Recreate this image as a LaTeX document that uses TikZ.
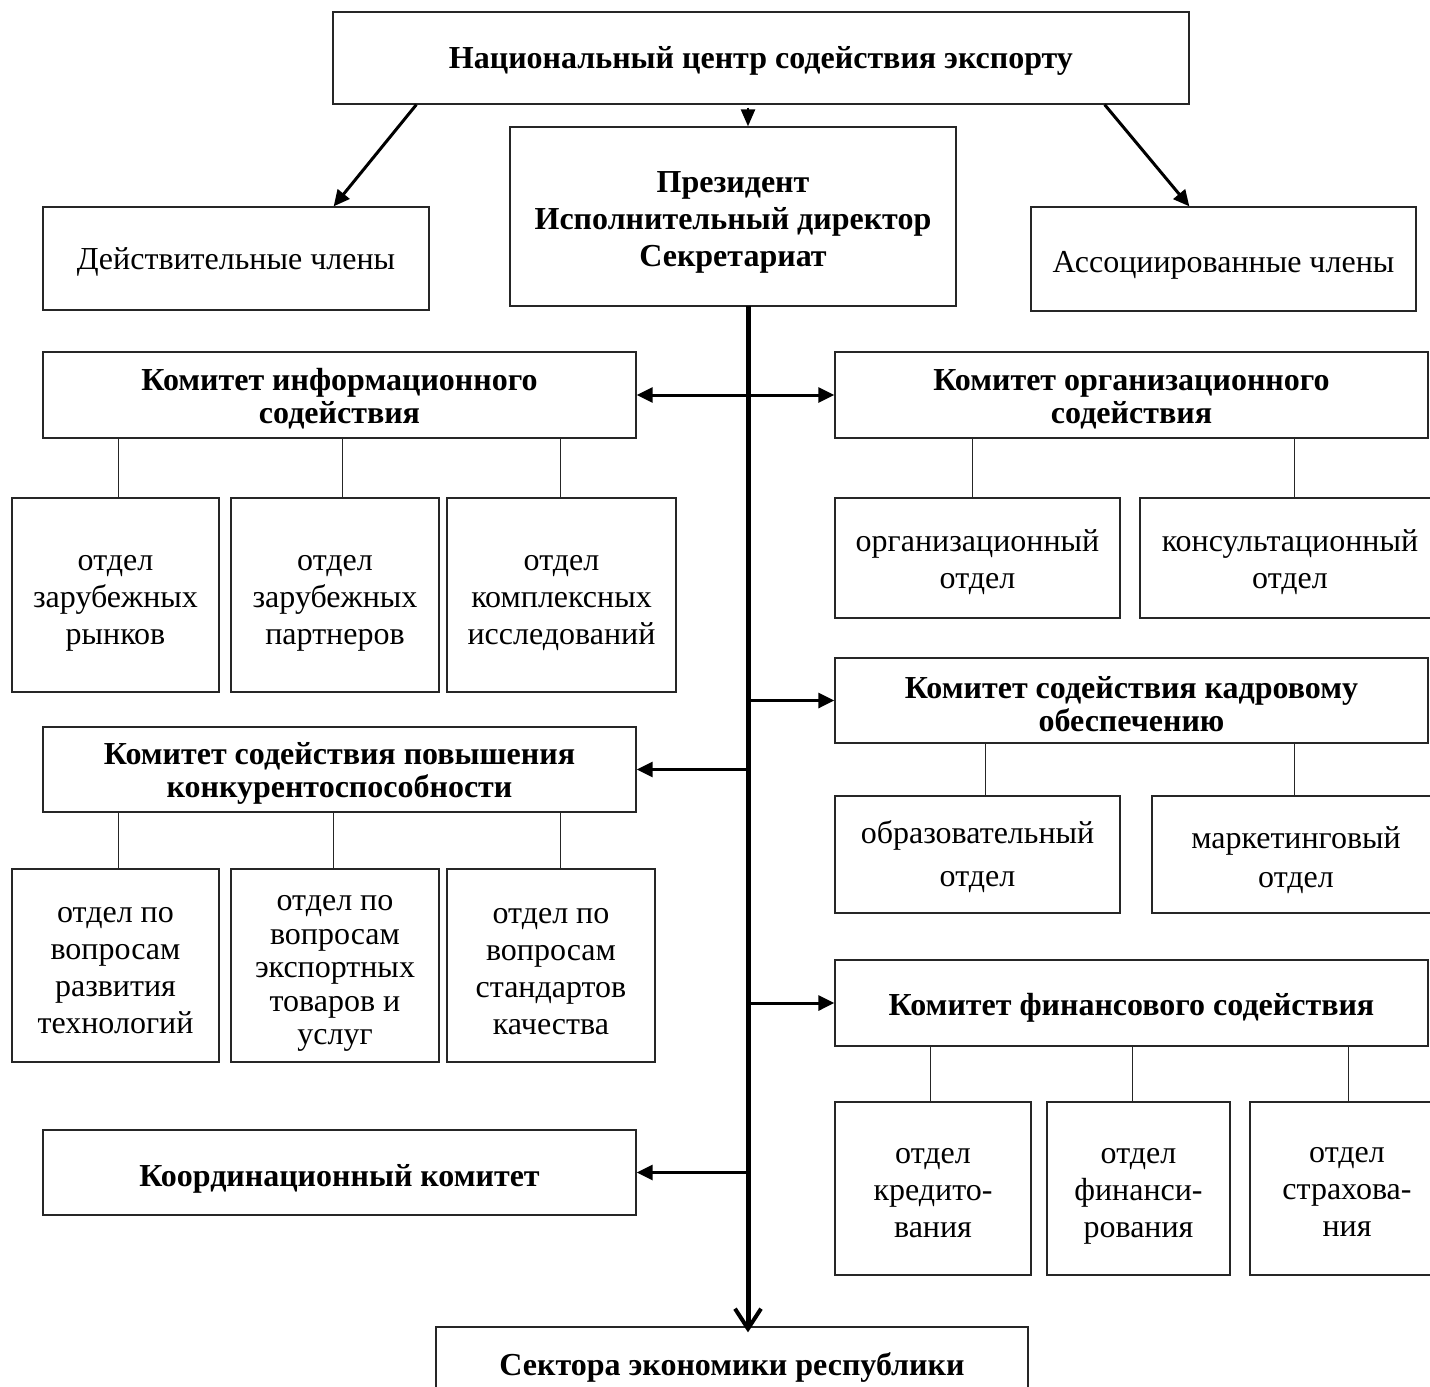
\documentclass[tikz,border=0pt]{standalone}
\usepackage{fontspec}
\setmainfont{Liberation Serif}
\usepackage{tikz}
\usetikzlibrary{arrows.meta}

\tikzset{
  box/.style={draw=black!85, line width=1.3pt, align=center, inner sep=0pt},
  txt/.style={align=center, inner sep=0pt},
  btxt/.style={txt, font=\fontsize{32}{33}\selectfont\bfseries},
  arr/.style={line width=3pt, -{Triangle[length=16pt,width=15pt]}},
  link/.style={line width=1pt, black!85}
}

\begin{document}
\begin{tikzpicture}[x=1pt, y=-1pt, font=\fontsize{32}{37}\selectfont]
\useasboundingbox (0,0) rectangle (1430,1387);
\clip (0,0) rectangle (1430,1387);
% top level
\node[box, minimum width=856pt, minimum height=92pt,
  label={[btxt, yshift=-3pt]center:Национальный центр содействия экспорту}] (ncse) at (761,58) {};
\node[box, minimum width=446pt, minimum height=179pt,
  label={[btxt, font=\fontsize{32}{37}\selectfont\bfseries, yshift=-6pt]center:{Президент\\Исполнительный директор\\Секретариат}}] (pres) at (733,216.5) {};
\node[box, minimum width=386pt, minimum height=103pt,
  label={[txt, yshift=-3pt]center:Действительные члены}] (deist) at (236,258.5) {};
\node[box, minimum width=385pt, minimum height=104pt,
  label={[txt, yshift=-6pt]center:Ассоциированные члены}] (assoc) at (1223.5,259) {};
%
\draw[arr] ([xshift=84pt]ncse.south west) -- ([xshift=-96pt]deist.north east);
\draw[arr] ([xshift=-85pt]ncse.south east) -- ([xshift=159pt]assoc.north west);
\coordinate (tt) at (748,306);
\draw[line width=2.5pt, -{Triangle[length=17pt,width=14pt]}] ([yshift=-3pt]ncse.south -| tt) -- (pres.north -| tt);
% committees
\node[box, minimum width=593pt, minimum height=86pt,
  label={[btxt, yshift=-4pt]center:{Комитет информационного\\содействия}}] (infocom) at (339.5,395) {};
\node[box, minimum width=593pt, minimum height=86pt,
  label={[btxt, yshift=-4pt]center:{Комитет организационного\\содействия}}] (orgcom) at (1131.5,395) {};
\node[box, minimum width=593pt, minimum height=85pt,
  label={[btxt, yshift=-4pt]center:{Комитет содействия кадровому\\обеспечению}}] (kadr) at (1131.5,700.5) {};
\node[box, minimum width=593pt, minimum height=85pt,
  label={[btxt, yshift=-4pt]center:{Комитет содействия повышения\\конкурентоспособности}}] (konk) at (339.5,769.5) {};
\node[box, minimum width=593pt, minimum height=86pt,
  label={[btxt, yshift=-5pt]center:Комитет финансового содействия}] (fin) at (1131.5,1003) {};
\node[box, minimum width=593pt, minimum height=85pt,
  label={[btxt, yshift=-6pt]center:Координационный комитет}] (koord) at (339.5,1172.5) {};
\node[box, minimum width=592pt, minimum height=74pt,
  label={[btxt, yshift=-3pt]center:Сектора экономики республики}] (sector) at (732,1364) {};
% departments
\node[box, minimum width=207pt, minimum height=194pt,
  label={[txt, yshift=-8pt]center:{отдел\\зарубежных\\рынков}}] (inf1) at (115.5,595) {};
\node[box, minimum width=208pt, minimum height=194pt,
  label={[txt, yshift=-8pt]center:{отдел\\зарубежных\\партнеров}}] (inf2) at (335,595) {};
\node[box, minimum width=229pt, minimum height=194pt,
  label={[txt, yshift=-8pt]center:{отдел\\комплексных\\исследований}}] (inf3) at (561.5,595) {};
\node[box, minimum width=285pt, minimum height=120pt,
  label={[txt, yshift=-4pt]center:{организационный\\отдел}}] (org1) at (977.5,558) {};
\node[box, minimum width=300pt, minimum height=120pt,
  label={[txt, yshift=-4pt]center:{консультационный\\отдел}}] (org2) at (1290,558) {};
\node[box, minimum width=285pt, minimum height=117pt,
  label={[txt, yshift=-2pt]center:{образовательный\\[6pt]отдел}}] (kad1) at (977.5,854.5) {};
\node[box, minimum width=288pt, minimum height=117pt,
  label={[txt, yshift=-6pt]center:{маркетинговый\\[2pt]отдел}}] (kad2) at (1296,854.5) {};
\node[box, minimum width=207pt, minimum height=193pt,
  label={[txt, yshift=-5.5pt]center:{отдел по\\вопросам\\развития\\технологий}}] (kon1) at (115.5,965.5) {};
\node[box, minimum width=208pt, minimum height=193pt,
  label={[txt, font=\fontsize{32}{33.5}\selectfont, yshift=-8pt]center:{отдел по\\вопросам\\экспортных\\товаров и\\услуг}}] (kon2) at (335,965.5) {};
\node[box, minimum width=208pt, minimum height=193pt,
  label={[txt, yshift=-6pt]center:{отдел по\\вопросам\\стандартов\\качества}}] (kon3) at (551,965.5) {};
\node[box, minimum width=196pt, minimum height=173pt,
  label={[txt, yshift=-5pt]center:{отдел\\кредито-\\вания}}] (fin1) at (933,1188.5) {};
\node[box, minimum width=183pt, minimum height=173pt,
  label={[txt, yshift=-8pt]center:{отдел\\финанси-\\рования}}] (fin2) at (1138.5,1188.5) {};
\node[box, minimum width=194pt, minimum height=173pt,
  label={[txt, yshift=-3.5pt]center:{отдел\\страхова-\\ния}}] (fin3) at (1347,1188.5) {};
% links to departments
\foreach \n/\dx in {inf1/2.5, inf2/7, inf3/-1.5}
  \draw[link] ([xshift=\dx pt]\n.north) -- ([xshift=\dx pt]\n.north |- infocom.south);
\foreach \n/\dx in {org1/-5.5, org2/4}
  \draw[link] ([xshift=\dx pt]\n.north) -- ([xshift=\dx pt]\n.north |- orgcom.south);
\foreach \n/\dx in {kad1/7.5, kad2/-2}
  \draw[link] ([xshift=\dx pt]\n.north) -- ([xshift=\dx pt]\n.north |- kadr.south);
\foreach \n/\dx in {kon1/2.5, kon2/-2, kon3/9}
  \draw[link] ([xshift=\dx pt]\n.north) -- ([xshift=\dx pt]\n.north |- konk.south);
\foreach \n/\dx in {fin1/-3, fin2/-6.5, fin3/1}
  \draw[link] ([xshift=\dx pt]\n.north) -- ([xshift=\dx pt]\n.north |- fin.south);
% trunk
\draw[line width=5pt, -{Straight Barb[length=20pt,width=26pt,line width=4pt]}] (tt) -- ([yshift=-6pt]sector.north -| tt);
\draw[line width=3pt, {Triangle[length=16pt,width=15pt]}-{Triangle[length=16pt,width=15pt]}] (infocom.east) -- (orgcom.west);
\draw[arr] (tt |- kadr.west) -- (kadr.west);
\draw[arr] (tt |- konk.east) -- (konk.east);
\draw[arr] (tt |- fin.west) -- (fin.west);
\draw[arr] (tt |- koord.east) -- (koord.east);
\end{tikzpicture}
\end{document}
